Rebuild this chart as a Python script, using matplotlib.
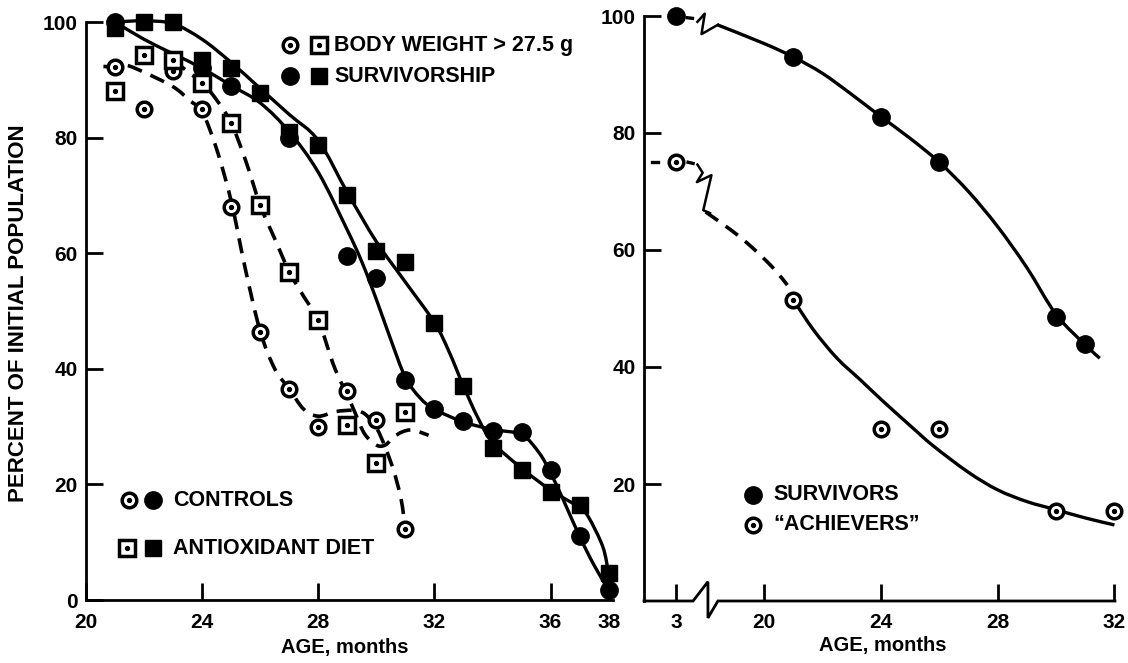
import numpy as np
import matplotlib
matplotlib.use("Agg")
import matplotlib.pyplot as plt
from matplotlib.path import Path
from matplotlib.patches import PathPatch

# ── data: left panel (controls vs antioxidant diet) ──────────────────────────
ctrl_surv_age = [21, 24, 25, 27, 29, 30, 31, 32, 33, 34, 35, 36, 37, 38]
ctrl_surv_pct = [100, 92, 89, 80, 59.5, 55.7, 38, 33, 31, 29.3, 29, 22.5, 11, 1.7]

anti_surv_age = [21, 22, 23, 24, 25, 26, 27, 28, 29, 30, 31, 32, 33, 34, 35, 36, 37, 38]
anti_surv_pct = [99, 100, 100, 93.5, 92, 87.7, 81, 78.7, 70, 60.3, 58.5, 48, 37, 26.3,
                 22.5, 18.7, 16.4, 4.7]

ctrl_bw_age = [21, 22, 23, 24, 25, 26, 27, 28, 29, 30, 31]
ctrl_bw_pct = [92.3, 85, 91.5, 85, 68, 46.4, 36.5, 30, 36.2, 31.1, 12.3]

anti_bw_age = [21, 22, 23, 24, 25, 26, 27, 28, 29, 30, 31]
anti_bw_pct = [88, 94.3, 93.4, 89.4, 82.5, 68.3, 56.8, 48.4, 30.3, 23.7, 32.5]

# hand-fitted curves (knots along the drawn lines)
ctrl_surv_fit_age = [21, 22, 23, 24, 25, 26, 27, 28, 29, 29.5, 30, 30.5, 31, 31.5, 32,
                     33, 34, 35, 35.6, 36, 36.45, 37, 37.5, 38]
ctrl_surv_fit_pct = [100, 97, 94.5, 92, 89, 86, 81, 74, 64, 58.5, 52, 45, 38.5, 35,
                     33, 30.8, 29.5, 28.6, 25.5, 22, 17.2, 11, 6, 1.7]

anti_surv_fit_age = [21, 22, 23, 24, 25, 26, 27, 28, 29, 30, 31, 32, 32.5, 33, 33.5,
                     34, 35, 36, 36.5, 37, 37.3, 37.8, 38]
anti_surv_fit_pct = [100, 100.2, 99.7, 97, 93, 88.5, 84, 79.5, 70.5, 62, 55, 48, 43,
                     37, 31.5, 27.3, 22.8, 19, 17.5, 16, 14.4, 9.2, 4.5]

ctrl_bw_fit_age = [20.6, 21, 21.4, 22, 23, 23.6, 24, 24.5, 25, 25.5, 26, 26.5, 27,
                   27.5, 28, 28.6, 29.2, 29.6, 30, 30.3, 30.6, 30.85, 31]
ctrl_bw_fit_pct = [92.3, 92.3, 92.5, 91.3, 88.8, 86.3, 84.5, 78, 69, 57, 46.5, 40, 36.5,
                   33, 31.8, 32.6, 32.8, 32.2, 29.8, 26.5, 22.3, 17.5, 12.3]

anti_bw_fit_age = [23, 24, 24.5, 25, 25.5, 26, 26.5, 27, 27.5, 28, 28.5, 28.8, 29,
                   29.3, 29.6, 30, 30.3, 30.6, 30.9, 31.25, 31.8]
anti_bw_fit_pct = [93.4, 89.4, 86.5, 82.5, 76, 68.3, 62.5, 56.8, 52.5, 48.4, 41, 37.5,
                   35.5, 32, 28.7, 26.8, 26.8, 28.2, 29.1, 29.4, 28.5]

# ── data: right panel (survivors vs achievers) ───────────────────────────────
# the 3-month point sits left of the axis break
BREAK_POS = 17
surv_age = [3, 21, 24, 26, 30, 31]
surv_pct = [100, 93, 82.7, 75, 48.5, 44]
ach_age = [3, 21, 24, 26, 30, 32]
ach_pct = [75, 51.5, 29.4, 29.4, 15.4, 15.4]

surv_fit_age = [18.4, 20, 21, 22, 23, 24, 25, 26, 27, 28, 29, 30, 31, 31.5]
surv_fit_pct = [98.5, 95.3, 93, 90.2, 86.6, 82.8, 79.1, 75, 70, 64, 57, 49, 43.8, 41.5]

ach_dash_age = [18.0, 18.9, 19.6, 20.3, 20.8]
ach_dash_pct = [66.5, 63.3, 60.4, 57.0, 54.0]
ach_fit_age = [21, 21.7, 22.5, 23.3, 24, 25, 25.8, 27, 28, 29, 30, 31, 32]
ach_fit_pct = [51.5, 46.3, 41.5, 37.8, 34.5, 30, 26.5, 22, 19, 17, 15.6, 14.2, 13]

W, H = 1128, 663
LW = 2.4
DLW = 2.6
DASH = (0, (4.2, 2.6))

plt.rcParams['font.family'] = ['Liberation Sans', 'DejaVu Sans']
plt.rcParams['font.weight'] = 'bold'


def fx(px):
    return px / W


def fy(py):
    return 1 - py / H


def smooth_path(xs, ys):
    """Catmull-Rom knots -> cubic Bezier path."""
    pts = np.column_stack([xs, ys]).astype(float)
    ext = np.vstack([pts[0], pts, pts[-1]])
    verts, codes = [pts[0]], [Path.MOVETO]
    for i in range(1, len(ext) - 2):
        p0, p1, p2, p3 = ext[i - 1], ext[i], ext[i + 1], ext[i + 2]
        verts += [p1 + (p2 - p0) / 6, p2 - (p3 - p1) / 6, p2]
        codes += [Path.CURVE4] * 3
    return Path(verts, codes)


def curve(ax, xs, ys, ls='-'):
    lw = LW if ls == '-' else DLW
    ax.add_patch(PathPatch(smooth_path(xs, ys), fill=False, lw=lw, ls=ls,
                           ec='black', capstyle='butt', clip_on=False, zorder=2))


def open_marker(ax, x, y, marker, ms, transform=None):
    kw = {} if transform is None else {'transform': transform}
    ax.plot(x, y, marker, ms=ms, mfc='white', mec='black', mew=2.5,
            ls='none', clip_on=False, zorder=4, **kw)
    ax.plot(x, y, 'o', ms=2.8, color='black', ls='none', clip_on=False,
            zorder=5, **kw)


def solid_marker(ax, x, y, marker, ms, transform=None):
    kw = {} if transform is None else {'transform': transform}
    ax.plot(x, y, marker, ms=ms, color='black', ls='none', clip_on=False,
            zorder=3, **kw)


fig = plt.figure(figsize=(W / 100, H / 100), dpi=100)
ax1 = fig.add_axes([fx(86), fy(600), fx(613) - fx(86), fy(22) - fy(600)])
ax2 = fig.add_axes([fx(644), fy(601), fx(1115) - fx(644), fy(16) - fy(601)])

for ax in (ax1, ax2):
    for side in ('top', 'right'):
        ax.spines[side].set_visible(False)
    for side in ('left', 'bottom'):
        ax.spines[side].set_linewidth(2)
    ax.set_ylim(0, 100)
    ax.tick_params(direction='in', length=12, width=2, labelsize=15)
    ax.tick_params(axis='y', pad=6)
    ax.tick_params(axis='x', pad=9)

# ── left panel ───────────────────────────────────────────────────────────────
ax1.set_xlim(20, 38.15)
ax1.set_xticks([20, 24, 28, 32, 36, 38])
ax1.set_yticks([0, 20, 40, 60, 80, 100])

curve(ax1, ctrl_surv_fit_age, ctrl_surv_fit_pct)
curve(ax1, anti_surv_fit_age, anti_surv_fit_pct)
curve(ax1, ctrl_bw_fit_age, ctrl_bw_fit_pct, DASH)
curve(ax1, anti_bw_fit_age, anti_bw_fit_pct, DASH)

solid_marker(ax1, anti_surv_age, anti_surv_pct, 's', 12)
solid_marker(ax1, ctrl_surv_age, ctrl_surv_pct, 'o', 12.5)
open_marker(ax1, ctrl_bw_age, ctrl_bw_pct, 'o', 10.5)
open_marker(ax1, anti_bw_age, anti_bw_pct, 's', 11)

# ── right panel ──────────────────────────────────────────────────────────────
ax2.set_xlim(15.89, 32.02)
ax2.set_xticks([BREAK_POS, 20, 24, 28, 32], ['3', '20', '24', '28', '32'])
ax2.set_yticks([20, 40, 60, 80, 100])
ax2.spines['bottom'].set_visible(False)

# broken x axis
ax2.plot([15.89, 17.57, 18.08, 18.08, 18.42, 32.02], [0, 0, 3.3, -2.9, 0, 0],
         color='black', lw=2, clip_on=False, solid_joinstyle='miter', zorder=3)


def pos(age):
    return [a if a >= 20 else BREAK_POS for a in age]


# survivors: dotted lead-in, zigzag break, fitted curve
ax2.plot([17.38, 17.55], [99.7, 99.6], color='black', lw=LW, clip_on=False)
ax2.plot([17.72, 17.97, 17.86, 18.42], [99.0, 100.4, 96.9, 98.5], color='black',
         lw=1.8, clip_on=False)
curve(ax2, surv_fit_age, surv_fit_pct)

# achievers: dotted lead-in, zigzag break, dashed then fitted curve
ax2.plot([16.16, 16.37], [75, 75], color='black', lw=LW, clip_on=False)
ax2.plot([17.4, 17.57], [75, 74.8], color='black', lw=LW, clip_on=False)
ax2.plot([17.72, 17.9, 17.7, 18.2, 17.92, 18.15], [74.6, 73.2, 71.6, 72.8, 66.8, 66.3],
         color='black', lw=1.8, clip_on=False)
curve(ax2, ach_dash_age, ach_dash_pct, DASH)
curve(ax2, ach_fit_age, ach_fit_pct)

solid_marker(ax2, pos(surv_age), surv_pct, 'o', 12.5)
open_marker(ax2, pos(ach_age), ach_pct, 'o', 10.5)

for ax in (ax1, ax2):
    for lab in ax.get_xticklabels() + ax.get_yticklabels():
        lab.set_fontweight('bold')

# ── legends and labels ───────────────────────────────────────────────────────
ft = fig.transFigure
LEG = dict(fontsize=15.5, va='center', ha='left', fontweight='bold')

open_marker(ax1, [fx(290)], [fy(45)], 'o', 10.5, ft)
open_marker(ax1, [fx(319)], [fy(45)], 's', 11, ft)
fig.text(fx(334), fy(45), 'BODY WEIGHT > 27.5 g', **LEG)
solid_marker(ax1, [fx(290)], [fy(76)], 'o', 12.5, ft)
solid_marker(ax1, [fx(319)], [fy(76)], 's', 12, ft)
fig.text(fx(334), fy(76), 'SURVIVORSHIP', **LEG)

open_marker(ax1, [fx(129)], [fy(500)], 'o', 10.5, ft)
solid_marker(ax1, [fx(153)], [fy(500)], 'o', 12.5, ft)
fig.text(fx(173), fy(500), 'CONTROLS', **LEG)
open_marker(ax1, [fx(127)], [fy(548)], 's', 11, ft)
solid_marker(ax1, [fx(153)], [fy(548)], 's', 12, ft)
fig.text(fx(173), fy(548), 'ANTIOXIDANT DIET', **LEG)

solid_marker(ax2, [fx(753)], [fy(495)], 'o', 12.5, ft)
fig.text(fx(773), fy(495), 'SURVIVORS', **LEG)
open_marker(ax2, [fx(753)], [fy(525)], 'o', 10.5, ft)
fig.text(fx(773), fy(525), '\u201cACHIEVERS\u201d', **LEG)

fig.text(fx(19), fy(313), 'PERCENT OF INITIAL POPULATION', rotation=90,
         fontsize=16, fontweight='bold', ha='center', va='center')
fig.text(fx(345), fy(648), 'AGE, months', fontsize=14.5, fontweight='bold',
         ha='center', va='center')
fig.text(fx(883), fy(645), 'AGE, months', fontsize=14.5, fontweight='bold',
         ha='center', va='center')

fig.savefig('out.png', dpi=100)
